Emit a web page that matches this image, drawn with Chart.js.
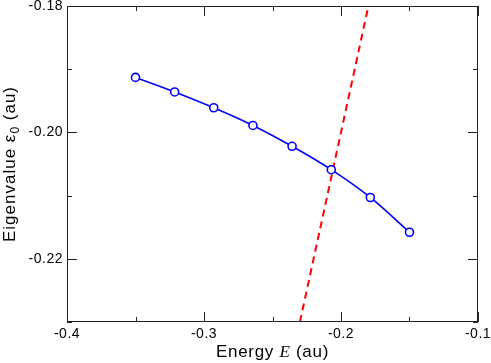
<!DOCTYPE html>
<html>
<head>
<meta charset="utf-8">
<script src="https://cdn.jsdelivr.net/npm/chart.js@4"></script>
<style>
  html, body { margin: 0; padding: 0; background: #fff; }
  #wrap { width: 491px; height: 363px; }
</style>
</head>
<body>
<div id="wrap"><canvas id="chart" width="491" height="363"></canvas></div>
<script>
// datos
const energy = [-0.35, -0.3214, -0.2929, -0.2643, -0.2357, -0.2071, -0.1786, -0.15];
const eigenvalue = [-0.1913, -0.1936, -0.1961, -0.1989, -0.2022, -0.2059, -0.2103, -0.2158];
const diagX = [-0.23, -0.18];
const diagY = [-0.23, -0.18];
const xMajor = [-0.4, -0.3, -0.2, -0.1];
const xMinor = [-0.35, -0.25, -0.15];
const yMajor = [-0.18, -0.2, -0.22];
const yMinor = [-0.19, -0.21, -0.23];

const FONT = '"Liberation Sans", Arial, Helvetica, sans-serif';
const SERIF = '"Liberation Serif", "Times New Roman", serif';

function near(v, list) {
    return list.some(t => Math.abs(t - v) < 1e-6);
}

// marco, ticks hacia adentro y titulos de ejes
const framePlugin = {
    id: 'framePlugin',
    beforeDraw(chart) {
        chart.ctx.letterSpacing = '0.5px';
    },
    afterDraw(chart) {
        const ctx = chart.ctx;
        const a = chart.chartArea;
        const xs = chart.scales.x;
        const ys = chart.scales.y;
        ctx.save();
        ctx.strokeStyle = '#222';
        ctx.lineWidth = 1;
        ctx.strokeRect(a.left + 0.5, a.top + 0.5, a.right - a.left - 1, a.bottom - a.top - 1);

        ctx.beginPath();
        xMajor.concat(xMinor).forEach(v => {
            const len = near(v, xMajor) ? 10 : 5;
            const px = Math.round(xs.getPixelForValue(v)) + 0.5;
            ctx.moveTo(px, a.bottom);
            ctx.lineTo(px, a.bottom - len);
            ctx.moveTo(px, a.top);
            ctx.lineTo(px, a.top + len);
        });
        yMajor.concat(yMinor).forEach(v => {
            const len = near(v, yMajor) ? 10 : 5;
            const py = Math.round(ys.getPixelForValue(v)) + 0.5;
            ctx.moveTo(a.left, py);
            ctx.lineTo(a.left + len, py);
            ctx.moveTo(a.right, py);
            ctx.lineTo(a.right - len, py);
        });
        ctx.stroke();

        // titulo eje x: Energy E (au)
        ctx.fillStyle = '#000';
        ctx.textAlign = 'left';
        ctx.textBaseline = 'alphabetic';
        ctx.letterSpacing = '0.7px';
        const cx = (a.left + a.right) / 2;
        const by = 357;
        const p1 = 'Energy ';
        const p2 = 'E';
        const p3 = ' (au)';
        ctx.font = '17px ' + FONT;
        const w1 = ctx.measureText(p1).width;
        const w3 = ctx.measureText(p3).width;
        ctx.font = 'italic 17px ' + SERIF;
        const w2 = ctx.measureText(p2).width;
        const x0 = cx - (w1 + w2 + w3) / 2;
        ctx.font = '17px ' + FONT;
        ctx.fillText(p1, x0, by);
        ctx.font = 'italic 17px ' + SERIF;
        ctx.fillText(p2, x0 + w1, by);
        ctx.font = '17px ' + FONT;
        ctx.fillText(p3, x0 + w1 + w2, by);

        // titulo eje y: Eigenvalue ε0 (au)
        ctx.letterSpacing = '1px';
        ctx.translate(15, (a.top + a.bottom) / 2);
        ctx.rotate(-Math.PI / 2);
        const q1 = 'Eigenvalue ε';
        const q2 = '0';
        const q3 = ' (au)';
        ctx.font = '17px ' + FONT;
        const v1 = ctx.measureText(q1).width;
        const v3 = ctx.measureText(q3).width;
        ctx.font = '12px ' + FONT;
        const v2 = ctx.measureText(q2).width;
        const y0 = -(v1 + v2 + v3) / 2;
        ctx.font = '17px ' + FONT;
        ctx.fillText(q1, y0, 0);
        ctx.font = '12px ' + FONT;
        ctx.fillText(q2, y0 + v1, 4);
        ctx.font = '17px ' + FONT;
        ctx.fillText(q3, y0 + v1 + v2, 0);
        ctx.restore();
        ctx.letterSpacing = '0px';
    }
};

const ctx = document.getElementById('chart').getContext('2d');

const chart = new Chart(ctx, {
    type: 'scatter',
    data: {
        datasets: [
            {
                label: 'eigenvalue',
                data: energy.map((e, i) => ({ x: e, y: eigenvalue[i] })),
                showLine: true,
                borderColor: '#0000ff',
                borderWidth: 1.6,
                cubicInterpolationMode: 'monotone',
                pointRadius: 4,
                pointBorderWidth: 1.6,
                pointBackgroundColor: '#ffffff',
                pointBorderColor: '#0000ff',
            },
            {
                label: 'diagonal',
                data: diagX.map((e, i) => ({ x: e, y: diagY[i] })),
                showLine: true,
                borderColor: '#ff0000',
                borderWidth: 2,
                borderDash: [7, 5],
                pointRadius: 0,
            },
        ],
    },
    options: {
        responsive: false,
        animation: false,
        layout: { padding: { top: 6, right: 13, left: 0, bottom: 0 } },
        plugins: {
            legend: { display: false },
            tooltip: { enabled: false },
        },
        scales: {
            x: {
                type: 'linear',
                min: -0.4,
                max: -0.1,
                grid: { display: false, drawTicks: false },
                border: { display: false },
                afterFit: (s) => {
                    s.height = 41;
                    s.paddingLeft = 0;
                    s.paddingRight = 0;
                },
                afterBuildTicks: (s) => { s.ticks = xMajor.map(v => ({ value: v })); },
                ticks: {
                    padding: 4,
                    color: '#000',
                    font: { family: FONT, size: 14 },
                    callback: (v) => v.toFixed(1),
                },
            },
            y: {
                type: 'linear',
                min: -0.23,
                max: -0.18,
                grid: { display: false, drawTicks: false },
                border: { display: false },
                afterFit: (s) => {
                    s.width = 67;
                    s.paddingTop = 0;
                    s.paddingBottom = 0;
                },
                afterBuildTicks: (s) => { s.ticks = yMajor.map(v => ({ value: v })); },
                ticks: {
                    padding: 4,
                    color: '#000',
                    font: { family: FONT, size: 14 },
                    callback: (v) => v.toFixed(2),
                },
            },
        },
    },
    plugins: [framePlugin],
});
</script>
</body>
</html>
